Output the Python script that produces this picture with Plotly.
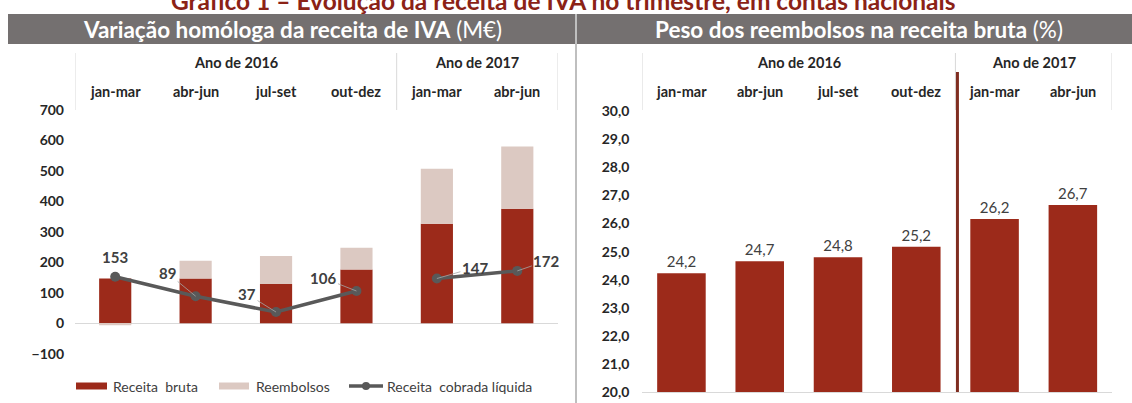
import plotly.graph_objects as go

# ---------------- data ----------------
periods = ["jan-mar", "abr-jun", "jul-set", "out-dez", "jan-mar", "abr-jun"]
period_years = [2016, 2016, 2016, 2016, 2017, 2017]
year_labels = {2016: "Ano de 2016", 2017: "Ano de 2017"}

receita_bruta = [147, 147, 129, 177, 327, 376]
reembolsos = [-6, 58, 92, 71, 180, 204]
receita_liquida = [153, 89, 37, 106, 147, 172]

peso_reembolsos = [24.23, 24.66, 24.80, 25.17, 26.16, 26.66]

left_ticks = [-100, 0, 100, 200, 300, 400, 500, 600, 700]
right_ticks = [20, 21, 22, 23, 24, 25, 26, 27, 28, 29, 30]

series_names = ["Receita  bruta", "Reembolsos", "Receita  cobrada líquida"]
main_title = "Gráfico 1 – Evolução da receita de IVA no trimestre, em contas nacionais"
left_title = ("Variação homóloga da receita de IVA", "(M€)")
right_title = ("Peso dos reembolsos na receita bruta", "(%)")

# ---------------- style ----------------
W, H = 1132, 403
FONT = "Lato"
RED = "#9C2A1A"
PINK = "#DCC9C2"
LINE = "#595959"
TXT = "#262626"
LBL = "#404040"
GRID = "#D9D9D9"
BAND = "#747070"
TITLE_RED = "#8B2216"


def px_x(p):
    return p / W


def px_y(p):
    return 1 - p / H


# label offsets (pixels) for the net revenue labels
label_offsets = [(0, -20, False), (-28, -23, True), (-29, -18, True),
                 (-33, -13, True), (38, -11, True), (29, -10, True)]

x = list(range(len(periods)))

fig = go.Figure()

# left chart bars
fig.add_trace(go.Bar(x=x, y=receita_bruta, name=series_names[0], marker=dict(color=RED, line=dict(width=0)),
                     width=0.4, xaxis="x", yaxis="y", showlegend=False, hoverinfo="y"))
fig.add_trace(go.Bar(x=x, y=reembolsos, name=series_names[1], marker=dict(color=PINK, line=dict(width=0)),
                     width=0.4, xaxis="x", yaxis="y", showlegend=False, hoverinfo="y"))

# net revenue line, broken between years
for yr in sorted(set(period_years)):
    idx = [i for i, py in enumerate(period_years) if py == yr]
    fig.add_trace(go.Scatter(x=[x[i] for i in idx], y=[receita_liquida[i] for i in idx],
                             mode="lines+markers", name=series_names[2],
                             line=dict(color=LINE, width=3.5),
                             marker=dict(color=LINE, size=10),
                             xaxis="x", yaxis="y", showlegend=False, hoverinfo="y"))

# right chart bars
fig.add_trace(go.Bar(x=x, y=peso_reembolsos, marker=dict(color=RED, line=dict(width=0)),
                     width=0.62, xaxis="x2", yaxis="y2", showlegend=False,
                     texttemplate="%{y:.1f}", textposition="outside",
                     textfont=dict(family=FONT, size=15, color=LBL), cliponaxis=False,
                     hoverinfo="y"))

shapes = []
annotations = []

# header band
shapes.append(dict(type="rect", xref="paper", yref="paper", x0=px_x(8), x1=1,
                   y0=px_y(44), y1=px_y(14), fillcolor=BAND, line=dict(width=0), layer="below"))
# separator between panels
shapes.append(dict(type="line", xref="paper", yref="paper", x0=px_x(576), x1=px_x(576),
                   y0=0, y1=px_y(14), line=dict(color="#BFBFBF", width=2)))

# header vertical dividers
for ax in ["x", "x2"]:
    for xv in [-0.5, 3.5, 5.5]:
        shapes.append(dict(type="line", xref=ax, yref="paper", x0=xv, x1=xv,
                           y0=px_y(110), y1=px_y(53), line=dict(color=GRID, width=1)))
# dark red year divider on right chart
shapes.append(dict(type="line", xref="x2", xsizemode="pixel", xanchor=3.5, x0=2, x1=2,
                   yref="paper", y0=px_y(392), y1=px_y(72), line=dict(color="#7F2D20", width=3)))

# main title (partly cut at the top, as in the source image)
annotations.append(dict(text="<b>" + main_title + "</b>", xref="paper", yref="paper",
                        x=px_x(563), y=1, xanchor="center", yanchor="middle", yshift=0,
                        showarrow=False, font=dict(family=FONT, size=24.5, color=TITLE_RED)))
# panel titles
annotations.append(dict(text="<b>%s</b> %s" % left_title, xref="paper", yref="paper",
                        x=px_x(292), y=px_y(29), xanchor="center", yanchor="middle",
                        showarrow=False, font=dict(family=FONT, size=22.5, color="white")))
annotations.append(dict(text="<b>%s</b> %s" % right_title, xref="paper", yref="paper",
                        x=px_x(859), y=px_y(29), xanchor="center", yanchor="middle",
                        showarrow=False, font=dict(family=FONT, size=22.5, color="white")))

# category headers
for ax in ["x", "x2"]:
    for yr in sorted(set(period_years)):
        idx = [i for i, py in enumerate(period_years) if py == yr]
        annotations.append(dict(text="<b>%s</b>" % year_labels[yr], xref=ax, yref="paper",
                                x=(x[idx[0]] + x[idx[-1]]) / 2, y=px_y(62), xanchor="center",
                                yanchor="middle", showarrow=False,
                                font=dict(family=FONT, size=14.5, color=TXT)))
    for i, p in enumerate(periods):
        annotations.append(dict(text="<b>%s</b>" % p, xref=ax, yref="paper", x=x[i], y=px_y(92),
                                xanchor="center", yanchor="middle", showarrow=False,
                                font=dict(family=FONT, size=14.5, color=TXT)))

# net revenue labels
for i, v in enumerate(receita_liquida):
    axo, ayo, lead = label_offsets[i]
    annotations.append(dict(text="<b>%d</b>" % v, xref="x", yref="y", x=x[i], y=v,
                            showarrow=True, arrowhead=0, arrowwidth=0.8,
                            arrowcolor="#A6A6A6" if lead else "rgba(0,0,0,0)",
                            ax=axo, ay=ayo, standoff=0,
                            font=dict(family=FONT, size=15, color=LBL)))

# custom legend
legend_y = px_y(386)
shapes.append(dict(type="rect", xref="paper", yref="paper", x0=px_x(76), x1=px_x(107),
                   y0=px_y(389.5), y1=px_y(382.5), fillcolor=RED, line=dict(width=0)))
shapes.append(dict(type="rect", xref="paper", yref="paper", x0=px_x(219), x1=px_x(249),
                   y0=px_y(389.5), y1=px_y(382.5), fillcolor=PINK, line=dict(width=0)))
shapes.append(dict(type="line", xref="paper", yref="paper", x0=px_x(349), x1=px_x(383),
                   y0=legend_y, y1=legend_y, line=dict(color=LINE, width=3.5)))
shapes.append(dict(type="circle", xref="paper", yref="paper", x0=px_x(362), x1=px_x(370),
                   y0=px_y(390), y1=px_y(382), fillcolor=LINE, line=dict(width=0)))
for xpos, name in zip([111, 254, 385], series_names):
    annotations.append(dict(text=name.replace("  ", "\u00a0 "), xref="paper", yref="paper",
                            x=px_x(xpos), y=legend_y, xanchor="left", yanchor="middle",
                            showarrow=False, font=dict(family=FONT, size=14, color=LBL)))

axis_common = dict(showgrid=False, fixedrange=True, automargin=False)

fig.update_layout(
    template="none",
    width=W, height=H, autosize=False,
    margin=dict(l=0, r=0, t=0, b=0, pad=0, autoexpand=False),
    paper_bgcolor="white", plot_bgcolor="white",
    barmode="relative",
    separators=",.",
    font=dict(family=FONT, color=TXT),
    showlegend=False,
    xaxis=dict(domain=[px_x(75), px_x(557.5)], range=[-0.5, 5.5], showticklabels=False,
               zeroline=False, showline=False, ticks="", anchor="y", **axis_common),
    yaxis=dict(domain=[px_y(353.8), px_y(110)], range=[-100, 700], tickvals=left_ticks,
               tickfont=dict(family=FONT, size=14, color=TXT, weight="bold"),
               zeroline=True, zerolinecolor=GRID, zerolinewidth=1, showline=False,
               ticks="", ticklabelstandoff=10, anchor="x", **axis_common),
    xaxis2=dict(domain=[px_x(642.3), px_x(1112)], range=[-0.5, 5.5], showticklabels=False,
                zeroline=False, showline=True, linecolor=GRID, linewidth=1, ticks="",
                anchor="y2", **axis_common),
    yaxis2=dict(domain=[px_y(392.3), px_y(111)], range=[20, 30], tickvals=right_ticks,
                tickformat=".1f",
                tickfont=dict(family=FONT, size=14, color=TXT, weight="bold"),
                zeroline=False, showline=False, ticks="", ticklabelstandoff=12,
                anchor="x2", **axis_common),
    shapes=shapes,
    annotations=annotations,
)

fig.write_html("out.html", config={"displayModeBar": False},
               post_script="document.body.style.margin='0';document.body.style.overflow='hidden';")
